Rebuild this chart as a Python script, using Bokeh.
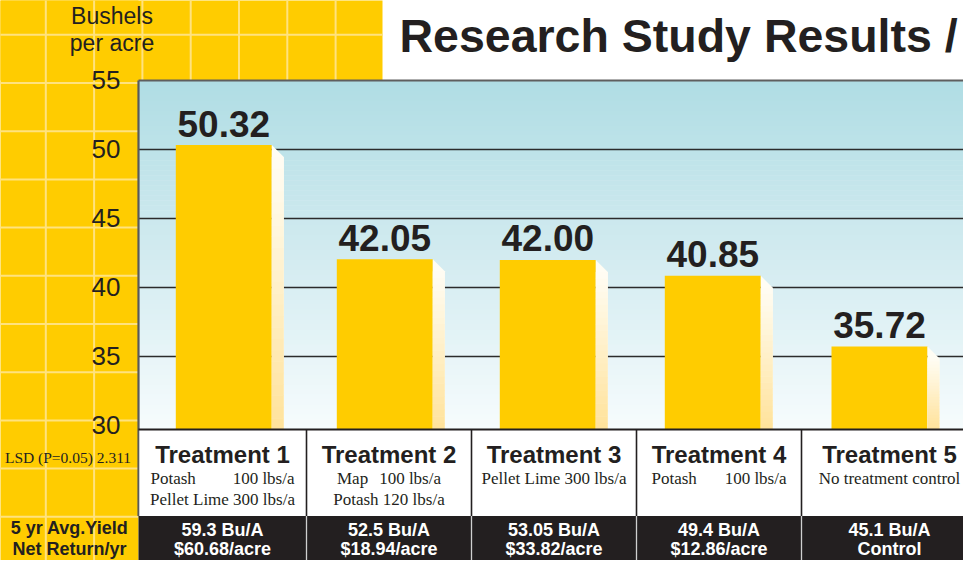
from bokeh.plotting import figure
from bokeh.models import Range1d, ColumnDataSource
from bokeh.core.properties import value
from bokeh.embed import file_html
from bokeh.resources import INLINE

# ---------------- data ----------------
treatments = ["Treatment 1", "Treatment 2", "Treatment 3", "Treatment 4", "Treatment 5"]
yields = [50.32, 42.05, 42.00, 40.85, 35.72]
yield_labels = ["50.32", "42.05", "42.00", "40.85", "35.72"]
detail_line1 = ["Potash|100 lbs/a", "Map|100 lbs/a", "Pellet Lime 300 lbs/a", "Potash|100 lbs/a", "No treatment control"]
detail_line2 = ["Pellet Lime 300 lbs/a", "Potash 120 lbs/a", "", "", ""]
avg_yield = ["59.3 Bu/A", "52.5 Bu/A", "53.05 Bu/A", "49.4 Bu/A", "45.1 Bu/A"]
net_return = ["$60.68/acre", "$18.94/acre", "$33.82/acre", "$12.86/acre", "Control"]
y_ticks = [30, 35, 40, 45, 50, 55]
y_tick_labels = ["30", "35", "40", "45", "50", "55"]
title_text = "Research Study Results /"
unit_lines = ["Bushels", "per acre"]
lsd_text = "LSD (P=0.05) 2.311"
row_labels = ["5 yr Avg.Yield", "Net Return/yr"]

# ---------------- layout (reference pixel geometry) ----------------
K = 13.8        # px per bushel
Y30 = 433.0     # px of value 30
BL = 0.39       # baseline correction (em)

def Y(px):
    return 30 + (Y30 - px) / K

def TB(px, fs):
    # data y for a text whose alphabetic baseline should sit at reference px
    return Y(px - BL * fs)

SANS = value("Liberation Sans")
SERIF = value("Liberation Serif")
DARK = "#231f20"
YELLOW = "#ffcc00"
YGRID = "#ffe27f"

bar_x = [231.3, 392.3, 555.3, 720.3, 887.0]
cell_cx = [230.0, 396.5, 561.5, 726.5, 897.0]
split_half = [72.0, 52.0, 0.0, 67.5, 0.0]
col_seps = [314, 479, 644, 809]
BAR_W = 96
SIDE = 12
PLOT_L, PLOT_T, TABLE_T, BLACK_T, RIGHT = 146, 88, 437, 523.5, 990

p = figure(width=963, height=560, x_range=Range1d(8, 971), y_range=Range1d(Y(568), Y(8)),
           output_backend="svg", toolbar_location=None, min_border=0)
p.axis.visible = False
p.grid.visible = False
p.outline_line_color = None
p.background_fill_color = "white"
p.border_fill_color = "white"

# yellow panels
p.quad(left=[6, 6], right=[390, PLOT_L], top=[Y(0), Y(0)], bottom=[Y(PLOT_T), Y(576)],
       fill_color=YELLOW, line_color=None)
# yellow grid lines
vx_full = [53.3, 101.6]
vx_top = [149.9, 198.2, 246.5, 294.8, 343.1]
p.segment(x0=vx_full, x1=vx_full, y0=[Y(0)] * 2, y1=[Y(576)] * 2, line_color=YGRID, line_width=2)
p.segment(x0=vx_top, x1=vx_top, y0=[Y(0)] * 5, y1=[Y(PLOT_T)] * 5, line_color=YGRID, line_width=2)
p.segment(x0=[6], x1=[390], y0=[Y(42.3)], y1=[Y(42.3)], line_color=YGRID, line_width=2)
hy = [42.3 + 48.2 * k for k in range(1, 12)]
p.segment(x0=[6] * len(hy), x1=[PLOT_L] * len(hy), y0=[Y(h) for h in hy], y1=[Y(h) for h in hy],
          line_color=YGRID, line_width=2)

# plot background gradient
def hex2rgb(h):
    h = h.lstrip("#")
    return [int(h[i:i + 2], 16) for i in (0, 2, 4)]

def lerp_color(stops, t):
    for (t0, c0), (t1, c1) in zip(stops[:-1], stops[1:]):
        if t0 <= t <= t1:
            f = (t - t0) / (t1 - t0) if t1 > t0 else 0
            a, b = hex2rgb(c0), hex2rgb(c1)
            return "#%02x%02x%02x" % tuple(int(round(a[i] + (b[i] - a[i]) * f)) for i in range(3))
    return stops[-1][1]

bg_stops = [(0.0, "#b0dde4"), (0.5, "#d2ebf0"), (1.0, "#f7fcfd")]
N = 70
edges = [PLOT_T + (TABLE_T - PLOT_T) * i / N for i in range(N + 1)]
p.quad(left=[PLOT_L] * N, right=[RIGHT] * N,
       top=[Y(edges[i]) for i in range(N)], bottom=[Y(edges[i + 1] + 0.6) for i in range(N)],
       fill_color=[lerp_color(bg_stops, (i + 0.5) / N) for i in range(N)], line_color=None)

# horizontal gridlines
grid_vals = [t for t in y_ticks if 30 < t < 55]
p.segment(x0=[PLOT_L] * len(grid_vals), x1=[RIGHT] * len(grid_vals), y0=grid_vals, y1=grid_vals,
          line_color="#2b2b2b", line_width=1.6)

# bars
bottom_v = Y(TABLE_T)
bars = ColumnDataSource(dict(x=bar_x, top=yields, lab=yield_labels,
                             laby=[v + (7 + BL * 37) / K for v in yields]))
p.vbar(x="x", top="top", bottom=bottom_v, width=BAR_W, source=bars, fill_color=YELLOW, line_color=None)

# 3D side faces with gradient
side_stops = [(0.0, "#fffdf4"), (1.0, "#ffe29a")]
sxs, sys = [], []
for xc, v in zip(bar_x, yields):
    r = xc + BAR_W / 2
    sxs.append([r, r + SIDE, r + SIDE, r])
    sys.append([v, v - SIDE / K, bottom_v, bottom_v])
p.patches(xs=sxs, ys=sys, fill_color="#fffdf4", line_color=None)
M = 24
ql, qr, qt, qb, qc = [], [], [], [], []
for xc, v in zip(bar_x, yields):
    r = xc + BAR_W / 2
    top_v = v - SIDE / K
    for j in range(M):
        t0 = top_v - (top_v - bottom_v) * j / M
        t1 = top_v - (top_v - bottom_v) * (j + 1) / M
        ql.append(r); qr.append(r + SIDE); qt.append(t0); qb.append(t1 - 0.03)
        qc.append(lerp_color(side_stops, (j + 0.5) / M))
p.quad(left=ql, right=qr, top=qt, bottom=qb, fill_color=qc, line_color=None)

# bar value labels
p.text(x="x", y="laby", text="lab", source=bars, text_font=SANS, text_font_size=value("37px"),
       text_font_style="bold", text_color=DARK, text_align="center", text_baseline="alphabetic")

# plot frame borders
p.segment(x0=[PLOT_L], x1=[RIGHT], y0=[Y(PLOT_T)], y1=[Y(PLOT_T)], line_color="#5f5f5f", line_width=2.2)
p.segment(x0=[PLOT_L], x1=[PLOT_L], y0=[Y(PLOT_T)], y1=[Y(BLACK_T)], line_color="#58595b", line_width=2.2)

# table
p.quad(left=[PLOT_L + 1], right=[RIGHT], top=[Y(TABLE_T)], bottom=[Y(BLACK_T)], fill_color="white", line_color=None)
p.segment(x0=[PLOT_L], x1=[RIGHT], y0=[Y(TABLE_T)], y1=[Y(TABLE_T)], line_color=DARK, line_width=1.8)
p.segment(x0=col_seps, x1=col_seps, y0=[Y(TABLE_T)] * 4, y1=[Y(BLACK_T)] * 4, line_color=DARK, line_width=1.6)
p.quad(left=[PLOT_L], right=[RIGHT], top=[Y(BLACK_T)], bottom=[Y(580)], fill_color=DARK, line_color=None)
p.segment(x0=col_seps, x1=col_seps, y0=[Y(BLACK_T)] * 4, y1=[Y(580)] * 4, line_color="#cfcfcf", line_width=1.3)

# table texts
p.text(x=cell_cx, y=[TB(471.5, 24)] * 5, text=treatments, text_font=SANS, text_font_size=value("24px"),
       text_font_style="bold", text_color=DARK, text_align="center", text_baseline="alphabetic")

c_x, c_y, c_t = [], [], []
l_x, l_y, l_t = [], [], []
r_x, r_y, r_t = [], [], []
for i, (a, b) in enumerate(zip(detail_line1, detail_line2)):
    for line, by in ((a, 493.0), (b, 514.0)):
        if not line:
            continue
        yy = TB(by, 17)
        if "|" in line:
            lt, rt = line.split("|")
            l_x.append(cell_cx[i] - split_half[i]); l_y.append(yy); l_t.append(lt)
            r_x.append(cell_cx[i] + split_half[i]); r_y.append(yy); r_t.append(rt)
        else:
            c_x.append(cell_cx[i]); c_y.append(yy); c_t.append(line)
for xs_, ys_, ts_, al in ((c_x, c_y, c_t, "center"), (l_x, l_y, l_t, "left"), (r_x, r_y, r_t, "right")):
    p.text(x=xs_, y=ys_, text=ts_, text_font=SERIF, text_font_size=value("17px"),
           text_color=DARK, text_align=al, text_baseline="alphabetic")

p.text(x=cell_cx, y=[TB(545.0, 18)] * 5, text=avg_yield, text_font=SANS, text_font_size=value("18px"),
       text_font_style="bold", text_color="white", text_align="center", text_baseline="alphabetic")
p.text(x=cell_cx, y=[TB(564.0, 18)] * 5, text=net_return, text_font=SANS, text_font_size=value("18px"),
       text_font_style="bold", text_color="white", text_align="center", text_baseline="alphabetic")

# left panel texts
p.text(x=[128] * len(y_ticks), y=[t - (9.5 - BL * 26) / K for t in y_ticks], text=y_tick_labels, text_font=SANS,
       text_font_size=value("26px"), text_color=DARK, text_align="right", text_baseline="alphabetic")
p.text(x=[119.5, 119.5], y=[TB(32.3, 23), TB(59.5, 23)], text=unit_lines, text_font=SANS,
       text_font_size=value("23px"), text_color=DARK, text_align="center", text_baseline="alphabetic")
p.text(x=[75.5], y=[TB(471.5, 15.5)], text=[lsd_text], text_font=SERIF, text_font_size=value("15.5px"),
       text_color=DARK, text_align="center", text_baseline="alphabetic")
p.text(x=[77, 77], y=[TB(542.5, 18), TB(564.0, 18)], text=row_labels, text_font=SANS, text_font_size=value("18px"),
       text_font_style="bold", text_color=DARK, text_align="center", text_baseline="alphabetic")

# title
p.text(x=[407], y=[TB(61.7, 46.5)], text=[title_text], text_font=SANS, text_font_size=value("46.5px"),
       text_font_style="bold", text_color=DARK, text_align="left", text_baseline="alphabetic")

open("out.html", "w").write(file_html(p, INLINE))
